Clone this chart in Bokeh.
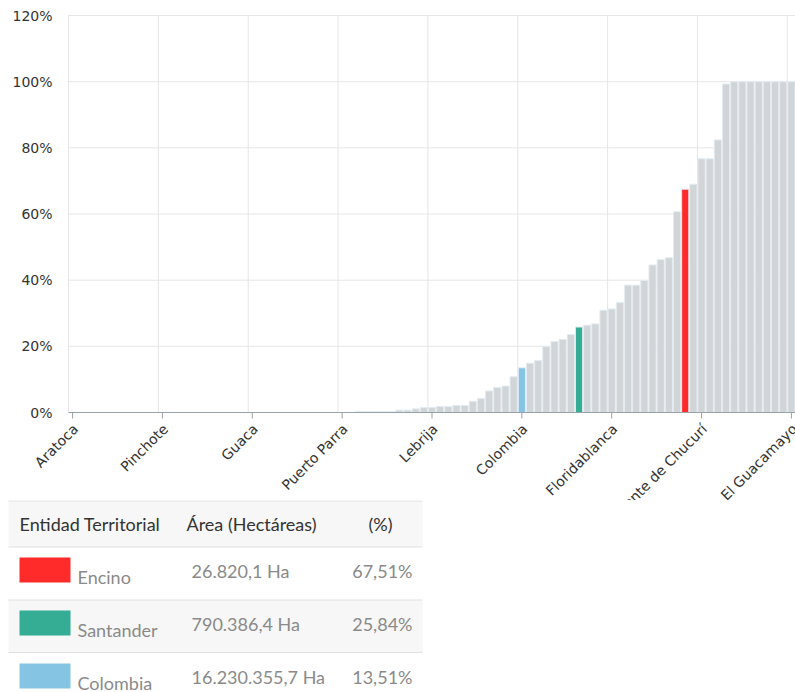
from bokeh.plotting import figure
from bokeh.models import Range1d, ColumnDataSource
from bokeh.layouts import column
from bokeh.embed import file_html
from bokeh.resources import INLINE
from bokeh.core.properties import value

# ---------------- data ----------------
entidades = [
    "Aratoca", "Aguada", "Albania", "Barbosa", "Barichara", "Betulia", "Bolívar", "Cabrera",
    "California", "Capitanejo", "Carcasí", "Pinchote", "Cepitá", "Cerrito", "Charalá", "Charta",
    "Chima", "Chipatá", "Concepción", "Confines", "Contratación", "Coromoro", "Guaca", "Curití",
    "El Peñón", "Enciso", "Florián", "Galán", "Gámbita", "Guadalupe", "Guapotá", "Guavatá",
    "Güepsa", "Puerto Parra", "Hato", "Jesús María", "Jordán", "La Belleza", "La Paz", "Los Santos",
    "Macaravita", "Málaga", "Matanza", "Mogotes", "Lebrija", "Molagavita", "Ocamonte", "Oiba",
    "Onzaga", "Palmar", "Palmas del Socorro", "Páramo", "Puente Nacional", "San Andrés", "San Benito",
    "Colombia", "San Joaquín", "San José de Miranda", "San Miguel", "Santa Bárbara", "Socorro",
    "Suaita", "Santander", "Sucre", "Suratá", "Tona", "Floridablanca", "Valle de San José", "Vélez",
    "Vetas", "Villanueva", "Zapatoca", "Bucaramanga", "Girón", "Piedecuesta", "Encino", "San Gil",
    "San Vicente de Chucurí", "Barrancabermeja", "Cimitarra", "El Carmen de Chucurí", "El Playón",
    "Landázuri", "Puerto Wilches", "Rionegro", "Sabana de Torres", "Santa Helena del Opón",
    "Simacota", "El Guacamayo",
]
porcentaje = [
    0, 0, 0, 0, 0, 0, 0, 0, 0, 0,
    0, 0, 0, 0, 0, 0, 0, 0, 0, 0,
    0, 0, 0, 0, 0, 0, 0, 0, 0, 0,
    0, 0, 0, 0, 0, 0.3, 0.3, 0.3, 0.3, 0.3,
    0.7, 0.7, 1.1, 1.5, 1.5, 1.8, 1.8, 2.1, 2.1, 3.4,
    4.2, 6.5, 7.6, 8.0, 10.8, 13.51, 14.9, 15.7, 20.0, 21.4,
    22.1, 23.6, 25.84, 26.4, 26.8, 30.9, 31.3, 33.2, 38.5, 38.5,
    39.9, 44.6, 46.2, 46.8, 60.7, 67.51, 69.0, 76.7, 76.7, 82.4,
    99.3, 100, 100, 100, 100, 100, 100, 100, 100,
]
resaltados = {"Encino": "#ff2b2b", "Santander": "#35ad95", "Colombia": "#86c4e4"}
tick_idx = [0, 11, 22, 33, 44, 55, 66, 77, 88]
y_ticks = [0, 20, 40, 60, 80, 100, 120]
y_labels = ["0%", "20%", "40%", "60%", "80%", "100%", "120%"]

tabla_entidad = ["Encino", "Santander", "Colombia"]
tabla_area = ["26.820,1 Ha", "790.386,4 Ha", "16.230.355,7 Ha"]
tabla_pct = ["67,51%", "25,84%", "13,51%"]
tabla_header = ["Entidad Territorial", "Área (Hectáreas)", "(%)"]

# ---------------- layout constants (pixels) ----------------
W = 795
CHART_H = 500
PLOT_TOP = 15          # page y of the 120% line
AXIS_Y = 412           # page y of the 0% line
PLOT_LEFT = 68         # page x of the plot area's left edge
n = len(entidades)
px_per_unit = (AXIS_Y - PLOT_TOP) / y_ticks[-1]
px_per_cat = (W - PLOT_LEFT) / n
y_lo = -(CHART_H - AXIS_Y) / px_per_unit
y_hi = y_ticks[-1] + PLOT_TOP / px_per_unit
x_lo = -0.5 - PLOT_LEFT / px_per_cat
x_hi = n - 0.5
tick_len = 6 / px_per_unit

# ---------------- chart ----------------
colores = [resaltados.get(e, "#d1d5d8") for e in entidades]
src = ColumnDataSource(dict(x=list(range(n)), top=porcentaje, color=colores, name=entidades))

p = figure(width=W, height=CHART_H, x_range=Range1d(x_lo, x_hi), y_range=Range1d(y_lo, y_hi),
           output_backend="svg", toolbar_location=None, min_border=0)
p.outline_line_color = None
p.axis.visible = False
p.grid.visible = False

# grid
m = len(y_ticks)
p.segment(x0=[-0.5] * m, x1=[x_hi] * m, y0=y_ticks, y1=y_ticks, line_color="#e6e6e6", line_width=1)
vg = [i - 0.5 for i in tick_idx]
p.segment(x0=vg, x1=vg, y0=[0] * len(vg), y1=[y_ticks[-1]] * len(vg), line_color="#e6e6e6", line_width=1)

# bars
p.vbar(x="x", top="top", width=0.88, fill_color="color", line_color="#e2ecf2", line_width=1, source=src)

# y axis labels
p.text(x=[-0.5] * m, y=y_ticks, text=y_labels, x_offset=-16, text_align="right", text_baseline="middle",
       text_font=value("DejaVu Sans"), text_font_size="14px", text_color="#333333")

# x axis (line, ticks and category labels)
p.segment(x0=[-0.5], x1=[x_hi], y0=[0], y1=[0], line_color="#9aa3a8", line_width=1)
p.segment(x0=tick_idx, x1=tick_idx, y0=[0] * len(tick_idx), y1=[-tick_len] * len(tick_idx),
          line_color="#9aa3a8", line_width=1)
p.text(x=tick_idx, y=[0] * len(tick_idx), text=[entidades[i] for i in tick_idx],
       angle=45, angle_units="deg", text_align="right", text_baseline="middle",
       x_offset=3, y_offset=14, text_font=value("DejaVu Sans"), text_font_size="14px",
       text_color="#333333")

# ---------------- table ----------------
TH = 692 - CHART_H
t = figure(width=W, height=TH, x_range=Range1d(0, W), y_range=Range1d(TH, 0),
           output_backend="svg", toolbar_location=None, min_border=0)
t.axis.visible = False
t.grid.visible = False
t.outline_line_color = None

TL, TR = 8, 422
t.quad(left=[TL, TL], right=[TR, TR], top=[0, 99.5], bottom=[46.5, 152], fill_color="#f7f7f7", line_color=None)
t.segment(x0=[TL] * 4, x1=[TR] * 4, y0=[0.5, 46.5, 99.5, 152], y1=[0.5, 46.5, 99.5, 152],
          line_color="#e0e0e0", line_width=1)

t.text(x=[19, 186], y=[23, 23], text=tabla_header[:2], text_font=value("Lato"), text_font_size="18px",
       text_color="#333333", text_baseline="middle", text_align="left")
t.text(x=[380], y=[23], text=tabla_header[2:], text_font=value("Lato"), text_font_size="18px",
       text_color="#333333", text_baseline="middle", text_align="center")

rows = list(range(len(tabla_entidad)))
t.quad(left=[19] * 3, right=[70] * 3, top=[57 + 53 * r for r in rows], bottom=[82 + 53 * r for r in rows],
       fill_color=[resaltados[e] for e in tabla_entidad], line_color=None)
t.text(x=[77] * 3, y=[76 + 53 * r for r in rows], text=tabla_entidad, text_font=value("Lato"),
       text_font_size="18px", text_color="#8a8a8a", text_baseline="middle", text_align="left")
t.text(x=[191] * 3, y=[70 + 53 * r for r in rows], text=tabla_area, text_font=value("Lato"),
       text_font_size="18px", text_color="#8a8a8a", text_baseline="middle", text_align="left")
t.text(x=[412] * 3, y=[70 + 53 * r for r in rows], text=tabla_pct, text_font=value("Lato"),
       text_font_size="18px", text_color="#8a8a8a", text_baseline="middle", text_align="right")

layout = column(p, t, spacing=0)
open("out.html", "w").write(file_html(layout, INLINE))
